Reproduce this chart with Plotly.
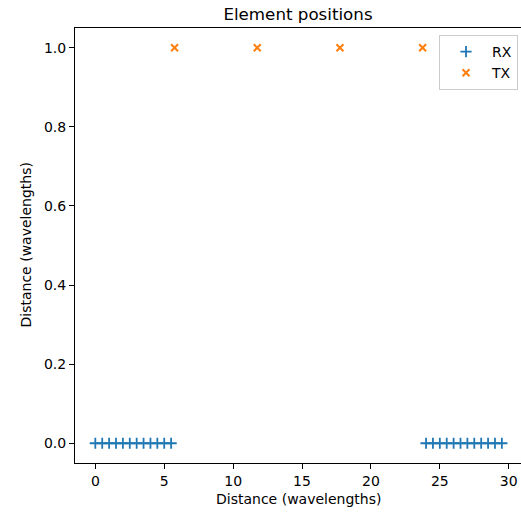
import plotly.graph_objects as go

# Data
rx_x = [0.0, 0.5, 1.0, 1.5, 2.0, 2.5, 3.0, 3.5, 4.0, 4.5, 5.0, 5.5,
        24.0, 24.5, 25.0, 25.5, 26.0, 26.5, 27.0, 27.5, 28.0, 28.5, 29.0, 29.5]
rx_y = [0.0] * len(rx_x)
tx_x = [5.75, 11.75, 17.75, 23.75]
tx_y = [1.0, 1.0, 1.0, 1.0]

x_ticks = [0, 5, 10, 15, 20, 25, 30]
y_ticks = [0.0, 0.2, 0.4, 0.6, 0.8, 1.0]

title_text = "Element positions"
x_label = "Distance (wavelengths)"
y_label = "Distance (wavelengths)"

FONT = "DejaVu Sans"
W, H = 521, 512
ML, MR, MT, MB = 75, 0, 28, 49

fig = go.Figure()
fig.add_trace(go.Scatter(
    x=rx_x, y=rx_y, mode="markers", name="RX",
    marker=dict(symbol="cross-thin", size=8, color="#1f77b4",
                line=dict(width=1.8, color="#1f77b4")),
))
fig.add_trace(go.Scatter(
    x=tx_x, y=tx_y, mode="markers", name="TX",
    marker=dict(symbol="x-thin", size=7, color="#ff7f0e",
                line=dict(width=2, color="#ff7f0e")),
))

axis_common = dict(
    showgrid=False, zeroline=False,
    showline=True, linecolor="black", linewidth=1.1,
    ticks="outside", ticklen=5, tickwidth=1.1, tickcolor="black",
    tickfont=dict(family=FONT, size=14, color="black"),
)

plot_w = W - ML - MR
plot_h = H - MT - MB

fig.update_layout(
    width=W, height=H,
    margin=dict(l=ML, r=MR, t=MT, b=MB),
    paper_bgcolor="white", plot_bgcolor="white",
    font=dict(family=FONT, size=14, color="black"),
    title=dict(text=title_text, x=0.5, xanchor="center", xref="paper",
               y=1 - 14 / H, yanchor="middle",
               font=dict(family=FONT, size=16.7, color="black")),
    xaxis=dict(range=[-1.475, 30.89], tickvals=x_ticks, mirror=True,
               **axis_common),
    yaxis=dict(range=[-0.05, 1.05], tickvals=y_ticks, tickformat=".1f",
               **axis_common),
    legend=dict(x=(518 - ML) / plot_w, y=(H - MB - 35) / plot_h,
                xanchor="right", yanchor="top",
                bgcolor="rgba(255,255,255,0.8)", bordercolor="#cccccc",
                borderwidth=1, itemwidth=42,
                font=dict(family=FONT, size=14, color="black")),
    showlegend=True,
    annotations=[
        dict(text=x_label, xref="paper", yref="paper",
             x=(298.5 - ML) / plot_w, y=-(498.5 - (H - MB)) / plot_h,
             xanchor="center", yanchor="middle", showarrow=False,
             font=dict(family=FONT, size=14, color="black")),
        dict(text=y_label, xref="paper", yref="paper",
             x=-(ML - 25) / plot_w, y=0.5, textangle=-90,
             xanchor="center", yanchor="middle", showarrow=False,
             font=dict(family=FONT, size=14, color="black")),
    ],
)

fig.write_html(
    "out.html",
    config={"displayModeBar": False},
    post_script="document.body.style.margin='0px';document.body.style.overflow='hidden';",
)
